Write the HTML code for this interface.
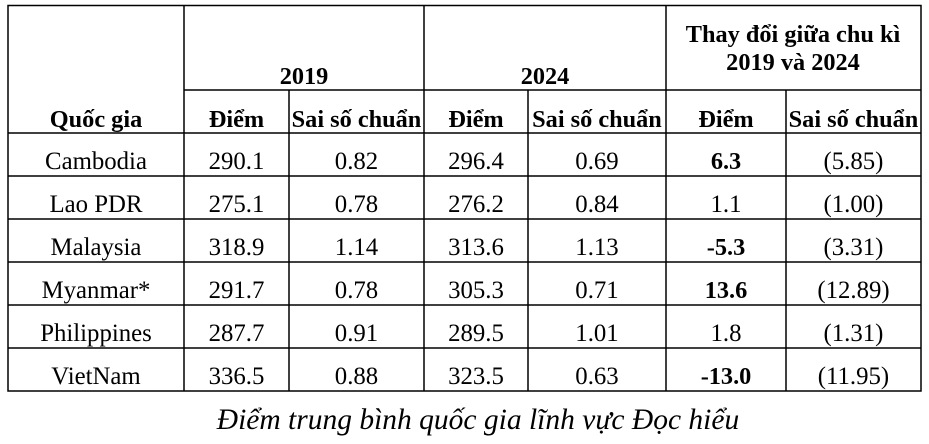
<!DOCTYPE html>
<html><head><meta charset="utf-8"><style>
html,body{margin:0;padding:0;background:#fff;}
svg{display:block;}
text{font-family:"Liberation Serif",serif;font-size:24.8px;fill:#000;}
.b{font-weight:bold;font-size:24.3px;}
</style></head><body>
<svg width="929" height="444" xmlns="http://www.w3.org/2000/svg">
<g stroke="#000" stroke-width="1.5" fill="none">
<rect x="8" y="5.5" width="913" height="385.5"/>
<line x1="184" y1="5" x2="184" y2="391"/>
<line x1="424" y1="5" x2="424" y2="391"/>
<line x1="666" y1="5" x2="666" y2="391"/>
<line x1="289" y1="90" x2="289" y2="391"/>
<line x1="528" y1="90" x2="528" y2="391"/>
<line x1="786" y1="90" x2="786" y2="391"/>
<line x1="184" y1="90" x2="921" y2="90"/>
<line x1="8" y1="133" x2="921" y2="133"/>
<line x1="8" y1="176" x2="921" y2="176"/>
<line x1="8" y1="219" x2="921" y2="219"/>
<line x1="8" y1="262" x2="921" y2="262"/>
<line x1="8" y1="305" x2="921" y2="305"/>
<line x1="8" y1="348" x2="921" y2="348"/>
</g>
<g text-anchor="middle">
<text class="b" x="304" y="84">2019</text>
<text class="b" x="545" y="84">2024</text>
<text class="b" x="793" y="42">Thay đổi giữa chu kì</text>
<text class="b" x="793" y="70">2019 và 2024</text>
<text class="b" x="96" y="127">Quốc gia</text>
<text class="b" x="236.5" y="127">Điểm</text>
<text class="b" x="356.5" y="127">Sai số chuẩn</text>
<text class="b" x="476" y="127">Điểm</text>
<text class="b" x="597" y="127">Sai số chuẩn</text>
<text class="b" x="726" y="127">Điểm</text>
<text class="b" x="853.5" y="127">Sai số chuẩn</text>

<text x="96" y="169">Cambodia</text><text x="236.5" y="169">290.1</text><text x="356.5" y="169">0.82</text><text x="476" y="169">296.4</text><text x="597" y="169">0.69</text><text class="b" x="726" y="169">6.3</text><text x="853.5" y="169">(5.85)</text>
<text x="96" y="212">Lao PDR</text><text x="236.5" y="212">275.1</text><text x="356.5" y="212">0.78</text><text x="476" y="212">276.2</text><text x="597" y="212">0.84</text><text x="726" y="212">1.1</text><text x="853.5" y="212">(1.00)</text>
<text x="96" y="255">Malaysia</text><text x="236.5" y="255">318.9</text><text x="356.5" y="255">1.14</text><text x="476" y="255">313.6</text><text x="597" y="255">1.13</text><text class="b" x="726" y="255">-5.3</text><text x="853.5" y="255">(3.31)</text>
<text x="96" y="298">Myanmar*</text><text x="236.5" y="298">291.7</text><text x="356.5" y="298">0.78</text><text x="476" y="298">305.3</text><text x="597" y="298">0.71</text><text class="b" x="726" y="298">13.6</text><text x="853.5" y="298">(12.89)</text>
<text x="96" y="341">Philippines</text><text x="236.5" y="341">287.7</text><text x="356.5" y="341">0.91</text><text x="476" y="341">289.5</text><text x="597" y="341">1.01</text><text x="726" y="341">1.8</text><text x="853.5" y="341">(1.31)</text>
<text x="96" y="384">VietNam</text><text x="236.5" y="384">336.5</text><text x="356.5" y="384">0.88</text><text x="476" y="384">323.5</text><text x="597" y="384">0.63</text><text class="b" x="726" y="384">-13.0</text><text x="853.5" y="384">(11.95)</text>

<text x="478" y="429" style="font-style:italic;font-size:29.5px">Điểm trung bình quốc gia lĩnh vực Đọc hiểu</text>
</g>
</svg>
</body></html>
